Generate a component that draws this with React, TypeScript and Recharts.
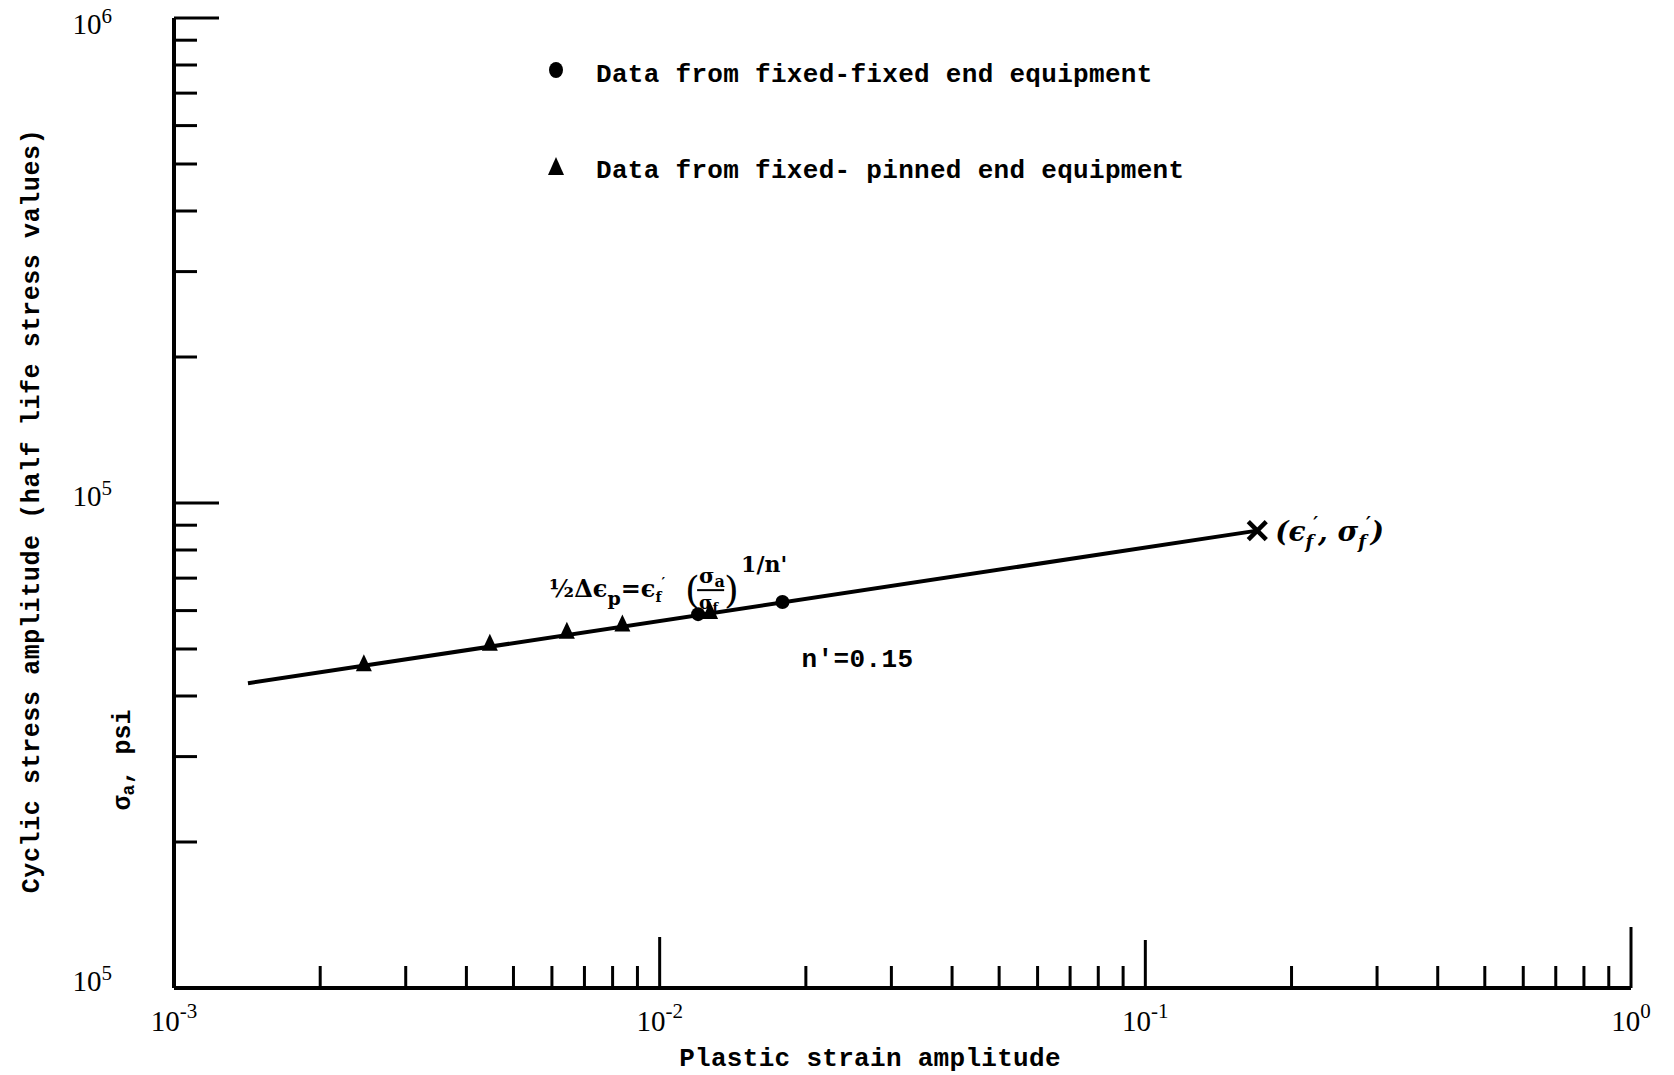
import { ScatterChart, Scatter, XAxis, YAxis, ReferenceDot, Legend } from "recharts";

// readings
const pinnedStrain = [0.00246, 0.00447, 0.00644, 0.00838, 0.0127];
const pinnedStress = [46300, 51000, 54000, 55900, 59300];
const fixedStrain = [0.012, 0.0179];
const fixedStress = [59000, 62500];
const fitStrain = [0.00142, 0.17];
const fitStress = [42500, 87700];
const failureStrain = [0.17];
const failureStress = [87700];

const xTicks = [
  0.001, 0.002, 0.003, 0.004, 0.005, 0.006, 0.007, 0.008, 0.009,
  0.01, 0.02, 0.03, 0.04, 0.05, 0.06, 0.07, 0.08, 0.09,
  0.1, 0.2, 0.3, 0.4, 0.5, 0.6, 0.7, 0.8, 0.9, 1,
];
const yTicks = [
  10000, 20000, 30000, 40000, 50000, 60000, 70000, 80000, 90000,
  100000, 200000, 300000, 400000, 500000, 600000, 700000, 800000, 900000, 1000000,
];
const xLabelValues = [0.001, 0.01, 0.1, 1];
const xLabelExps = ["-3", "-2", "-1", "0"];
const yLabelValues = [10000, 100000, 1000000];
const yLabelExps = ["5", "5", "6"];

const fixedName = "Data from fixed-fixed end equipment";
const pinnedName = "Data from fixed- pinned end equipment";

const toPoints = (xs: number[], ys: number[]) =>
  xs.map((strain, i) => ({ strain, stress: ys[i] }));

const MONO = "'Liberation Mono', 'DejaVu Sans Mono', monospace";
const SERIF = "'Liberation Serif', 'DejaVu Serif', serif";

const findIdx = (list: number[], v: number) =>
  list.findIndex((d) => Math.abs(d - v) < d * 1e-6);

function XTick({ x, y, payload }: any) {
  const v = payload.value;
  const i = findIdx(xLabelValues, v);
  const len = v === 1 ? 61 : v === 0.01 ? 51 : v === 0.1 ? 48 : 22;
  return (
    <g>
      {v !== 0.001 && (
        <line x1={x} x2={x} y1={y} y2={y - len} stroke="#000" strokeWidth={3} />
      )}
      {i >= 0 && (
        <text x={x} y={y + 43} textAnchor="middle" fontFamily={SERIF} fontSize={29} fill="#000">
          10
          <tspan dy={-13} fontSize={21}>
            {xLabelExps[i]}
          </tspan>
        </text>
      )}
    </g>
  );
}

function YTick({ x, y, payload }: any) {
  const v = payload.value;
  const i = findIdx(yLabelValues, v);
  const len = v === 100000 || v === 1000000 ? 45 : 23;
  return (
    <g>
      {v !== 10000 && (
        <line x1={x} x2={x + len} y1={y} y2={y} stroke="#000" strokeWidth={3} />
      )}
      {i >= 0 && (
        <text
          x={x - 62}
          y={y + (v === 1000000 ? 16 : 3)}
          textAnchor="end"
          fontFamily={SERIF}
          fontSize={29}
          fill="#000"
        >
          10
          <tspan dy={-11} fontSize={21}>
            {yLabelExps[i]}
          </tspan>
        </text>
      )}
    </g>
  );
}

function XTitle({ viewBox }: any) {
  return (
    <text
      x={viewBox.x + 696}
      y={viewBox.y + 78}
      textAnchor="middle"
      fontFamily={MONO}
      fontWeight="bold"
      fontSize={26}
      letterSpacing={0.3}
      fill="#000"
    >
      Plastic strain amplitude
    </text>
  );
}

function YTitle({ viewBox }: any) {
  const cx = viewBox.x + 32;
  const cy = viewBox.y + 493;
  const sx = viewBox.x + 123;
  const sy = viewBox.y + 742;
  return (
    <g fontFamily={MONO} fontWeight="bold" fill="#000">
      <text
        x={cx}
        y={cy}
        transform={`rotate(-90, ${cx}, ${cy})`}
        textAnchor="middle"
        dominantBaseline="central"
        fontSize={25}
        letterSpacing={0.6}
      >
        Cyclic stress amplitude (half life stress values)
      </text>
      <text
        x={sx}
        y={sy}
        transform={`rotate(-90, ${sx}, ${sy})`}
        textAnchor="middle"
        dominantBaseline="central"
        fontSize={25}
      >
        σ<tspan dy={6} fontSize={18}>a</tspan>
        <tspan dy={-6}>, psi</tspan>
      </text>
    </g>
  );
}

function EquationLabel({ viewBox }: any) {
  // anchored on the first fixed-fixed point, text sits above-left of it
  const x = viewBox.x - 149;
  const y = viewBox.y - 17;
  return (
    <g fontFamily="'DejaVu Serif', serif" fontWeight="bold" fill="#000">
      <text x={x} y={y} fontSize={24}>
        ½Δϵ
        <tspan dy={8} fontSize={19}>p</tspan>
        <tspan dy={-8}>=ϵ</tspan>
        <tspan dy={5} fontSize={14}>f</tspan>
        <tspan dy={-14} fontSize={14}>′</tspan>
      </text>
      <text x={x + 136} y={y + 6} fontSize={38} fontWeight="normal">(</text>
      <text x={x + 150} y={y - 14} fontSize={21}>
        σ<tspan dy={4} fontSize={16}>a</tspan>
      </text>
      <line x1={x + 148} x2={x + 175} y1={y - 7} y2={y - 7} stroke="#000" strokeWidth={2} />
      <text x={x + 150} y={y + 12} fontSize={18}>
        σ<tspan dy={3} fontSize={13}>f</tspan>
      </text>
      <text x={x + 175} y={y + 6} fontSize={38} fontWeight="normal">)</text>
      <text x={x + 192} y={y - 25} fontSize={22}>1/n'</text>
    </g>
  );
}

function SlopeLabel({ viewBox }: any) {
  return (
    <text
      x={viewBox.x + 19}
      y={viewBox.y + 65}
      fontFamily={MONO}
      fontWeight="bold"
      fontSize={26}
      letterSpacing={0.4}
      fill="#000"
    >
      n'=0.15
    </text>
  );
}

function FailureLabel({ viewBox }: any) {
  return (
    <text
      x={viewBox.x + 18}
      y={viewBox.y + 10}
      fontFamily="'DejaVu Serif', serif"
      fontStyle="italic"
      fontWeight="bold"
      fontSize={28}
      fill="#000"
    >
      (ϵ
      <tspan dy={7} fontSize={18}>f</tspan>
      <tspan dy={-18} fontSize={18}>′</tspan>
      <tspan dy={11}>, σ</tspan>
      <tspan dy={7} fontSize={18}>f</tspan>
      <tspan dy={-18} fontSize={18}>′</tspan>
      <tspan dy={11}>)</tspan>
    </text>
  );
}

function Triangle({ cx, cy }: any) {
  return <polygon points={`${cx},${cy - 11} ${cx + 8},${cy + 6} ${cx - 8},${cy + 6}`} fill="#000" />;
}

function Circle({ cx, cy }: any) {
  return <circle cx={cx} cy={cy} r={7} fill="#000" />;
}

function Cross({ cx, cy }: any) {
  return (
    <g stroke="#000" strokeWidth={4.5}>
      <line x1={cx - 9} y1={cy - 9} x2={cx + 9} y2={cy + 9} />
      <line x1={cx - 9} y1={cy + 9} x2={cx + 9} y2={cy - 9} />
    </g>
  );
}

function LegendContent({ payload }: any) {
  const items = (payload || []).filter((e: any) => e.type !== "none");
  const ordered = [
    ...items.filter((e: any) => e.type === "circle"),
    ...items.filter((e: any) => e.type === "triangle"),
  ];
  return (
    <div
      style={{
        fontFamily: MONO,
        fontWeight: "bold",
        fontSize: 26,
        letterSpacing: 0.3,
        color: "#000",
      }}
    >
      {ordered.map((e: any) => (
        <div key={e.value} style={{ height: 96, display: "flex", alignItems: "center" }}>
          <svg width={16} height={18} style={{ position: "relative", top: -5 }}>
            {e.type === "circle" ? (
              <ellipse cx={8} cy={9} rx={7} ry={8} fill="#000" />
            ) : (
              <polygon points="8,0 16,18 0,18" fill="#000" />
            )}
          </svg>
          <span style={{ marginLeft: 32, whiteSpace: "pre" }}>{e.value}</span>
        </div>
      ))}
    </div>
  );
}

export default function App() {
  return (
    <div style={{ position: "absolute", left: 0, top: 0, width: 1674, height: 1075, background: "#fff" }}>
      <ScatterChart width={1674} height={1075} margin={{ top: 18, right: 43, bottom: 0, left: 0 }}>
        <XAxis
          type="number"
          dataKey="strain"
          scale="log"
          domain={[0.001, 1]}
          allowDataOverflow
          ticks={xTicks}
          interval={0}
          height={87}
          tickSize={0}
          tickMargin={0}
          tickLine={false}
          tick={<XTick />}
          axisLine={{ stroke: "#000", strokeWidth: 4 }}
          label={{ content: <XTitle /> }}
        />
        <YAxis
          type="number"
          dataKey="stress"
          scale="log"
          domain={[10000, 1000000]}
          allowDataOverflow
          ticks={yTicks}
          interval={0}
          width={174}
          tickSize={0}
          tickMargin={0}
          tickLine={false}
          tick={<YTick />}
          axisLine={{ stroke: "#000", strokeWidth: 4 }}
          label={{ content: <YTitle /> }}
        />
        <Legend
          layout="vertical"
          align="center"
          verticalAlign="middle"
          content={<LegendContent />}
          wrapperStyle={{ left: 548, top: 27, width: 700, height: 192 }}
        />
        <Scatter
          name="fit"
          data={toPoints(fitStrain, fitStress)}
          legendType="none"
          line={{ stroke: "#000", strokeWidth: 4 }}
          shape={() => <g />}
          isAnimationActive={false}
        />
        <Scatter
          name={fixedName}
          data={toPoints(fixedStrain, fixedStress)}
          legendType="circle"
          fill="#000"
          shape={<Circle />}
          isAnimationActive={false}
        />
        <Scatter
          name={pinnedName}
          data={toPoints(pinnedStrain, pinnedStress)}
          legendType="triangle"
          fill="#000"
          shape={<Triangle />}
          isAnimationActive={false}
        />
        <Scatter
          name="failure"
          data={toPoints(failureStrain, failureStress)}
          legendType="none"
          shape={<Cross />}
          isAnimationActive={false}
        />
        <ReferenceDot
          x={fixedStrain[0]}
          y={fixedStress[0]}
          r={0}
          fill="none"
          stroke="none"
          label={{ content: <EquationLabel /> }}
        />
        <ReferenceDot
          x={fixedStrain[1]}
          y={fixedStress[1]}
          r={0}
          fill="none"
          stroke="none"
          label={{ content: <SlopeLabel /> }}
        />
        <ReferenceDot
          x={failureStrain[0]}
          y={failureStress[0]}
          r={0}
          fill="none"
          stroke="none"
          label={{ content: <FailureLabel /> }}
        />
      </ScatterChart>
    </div>
  );
}
